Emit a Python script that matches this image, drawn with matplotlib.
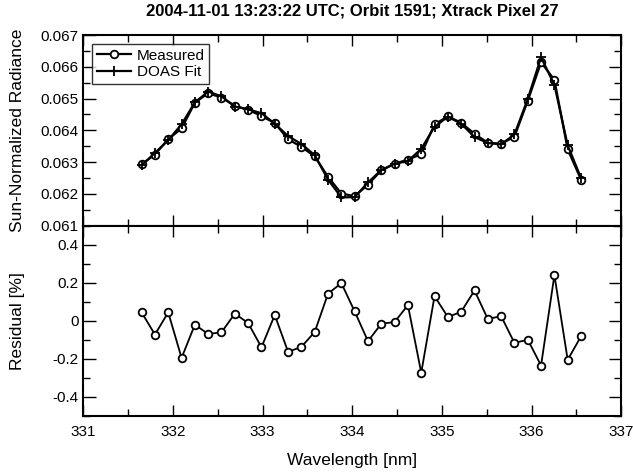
import numpy as np
import matplotlib
matplotlib.use('Agg')
import matplotlib.pyplot as plt
from matplotlib.ticker import MultipleLocator, FuncFormatter

plt.rcParams['font.family'] = ['Liberation Sans', 'DejaVu Sans']

# wavelength grid [nm]
wl = [331.650, 331.799, 331.947, 332.096, 332.244, 332.393, 332.541, 332.690,
      332.838, 332.987, 333.135, 333.284, 333.432, 333.581, 333.729, 333.878,
      334.026, 334.175, 334.323, 334.472, 334.620, 334.769, 334.917, 335.066,
      335.214, 335.363, 335.511, 335.660, 335.808, 335.957, 336.105, 336.254,
      336.402, 336.551]

measured = [0.06293, 0.06324, 0.06372, 0.06406, 0.06487, 0.06517, 0.06503, 0.06477,
            0.06465, 0.06445, 0.06423, 0.06372, 0.06348, 0.06318, 0.06254, 0.06201,
            0.06193, 0.06229, 0.06274, 0.06295, 0.06308, 0.06325, 0.06419, 0.06444,
            0.06424, 0.06389, 0.06361, 0.06358, 0.06380, 0.06493, 0.06614, 0.06559,
            0.06340, 0.06245]

fit = [0.06290, 0.06329, 0.06369, 0.06419, 0.06488, 0.06522, 0.06507, 0.06475,
       0.06466, 0.06454, 0.06421, 0.06382, 0.06357, 0.06322, 0.06245, 0.06189,
       0.06190, 0.06236, 0.06275, 0.06295, 0.06303, 0.06342, 0.06411, 0.06443,
       0.06421, 0.06379, 0.06360, 0.06356, 0.06387, 0.06499, 0.06630, 0.06543,
       0.06353, 0.06250]

residual = [0.044, -0.073, 0.044, -0.196, -0.021, -0.070, -0.061, 0.037,
            -0.012, -0.140, 0.030, -0.164, -0.138, -0.059, 0.142, 0.198,
            0.049, -0.108, -0.016, -0.007, 0.082, -0.274, 0.129, 0.019,
            0.047, 0.159, 0.009, 0.024, -0.117, -0.100, -0.236, 0.240,
            -0.206, -0.082]

fig = plt.figure(figsize=(6.33, 4.74), dpi=100)
L, R = 83.3 / 633, 621.3 / 633
top, mid, bot = 1 - 35 / 474, 1 - 225.7 / 474, 1 - 415.7 / 474
ax1 = fig.add_axes([L, mid, R - L, top - mid])
ax2 = fig.add_axes([L, bot, R - L, mid - bot], sharex=ax1)

ax1.plot(wl, measured, '-o', color='k', lw=1.6, ms=5.5, mfc='white', mec='k',
         mew=1.3, label='Measured')
ax1.plot(wl, fit, '-+', color='k', lw=1.6, ms=7.5, mew=1.3, label='DOAS Fit')
ax1.set_ylim(0.061, 0.067)
ax1.yaxis.set_major_locator(MultipleLocator(0.001))
ax1.yaxis.set_minor_locator(MultipleLocator(0.0005))
ax1.yaxis.set_major_formatter(FuncFormatter(lambda v, p: '%.3f' % v))
ax1.set_ylabel('Sun-Normalized Radiance', fontsize=12.5)
leg = ax1.legend(loc='upper left', fontsize=11, frameon=True, fancybox=False,
                 borderpad=0.3, handlelength=2.2, handletextpad=0.4,
                 labelspacing=0.15, borderaxespad=0.6)
leg.get_frame().set_edgecolor('k')
leg.get_frame().set_linewidth(1.0)
ax1.tick_params(axis='x', labelbottom=False)
ax1.set_title('2004-11-01 13:23:22 UTC; Orbit 1591; Xtrack Pixel 27',
              fontsize=12, fontweight='bold', pad=14)

ax2.plot(wl, residual, '-o', color='k', lw=1.3, ms=5.5, mfc='white', mec='k', mew=1.3)
ax2.set_ylim(-0.5, 0.5)
ax2.set_xlim(331, 337)
ax2.yaxis.set_major_locator(MultipleLocator(0.2))
ax2.yaxis.set_minor_locator(MultipleLocator(0.1))
ax2.yaxis.set_major_formatter(FuncFormatter(lambda v, p: ('%g' % round(v, 3)).replace('\u2212', '-')))
ax2.xaxis.set_major_locator(MultipleLocator(1))
ax2.xaxis.set_minor_locator(MultipleLocator(0.5))
ax2.set_ylabel('Residual [%]', fontsize=12.5)
ax2.set_xlabel('Wavelength [nm]', fontsize=12.5, labelpad=10)

for ax in (ax1, ax2):
    for s in ax.spines.values():
        s.set_linewidth(1.5)
    ax.tick_params(which='both', direction='in', top=True, right=True,
                   labelsize=11, width=1.0)
    ax.tick_params(which='major', length=9)
    ax.tick_params(which='minor', length=5)
    ax.tick_params(axis='x', which='major', length=8, pad=7)
    ax.yaxis.set_label_coords(-0.108, 0.5)

fig.savefig('out.png', dpi=100)
